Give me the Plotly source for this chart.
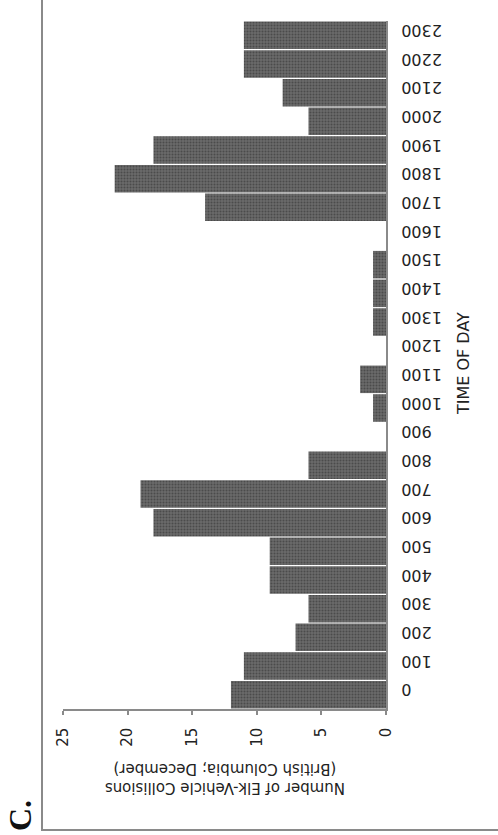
import plotly.graph_objects as go

hours = ["0", "100", "200", "300", "400", "500", "600", "700", "800", "900",
         "1000", "1100", "1200", "1300", "1400", "1500", "1600", "1700", "1800",
         "1900", "2000", "2100", "2200", "2300"]
collisions = [12, 11, 7, 6, 9, 9, 18, 19, 6, 0,
              1, 2, 0, 1, 1, 1, 0, 14, 21,
              18, 6, 8, 11, 11]
value_ticks = [0, 5, 10, 15, 20, 25]

W, H = 498, 835
L, R, T, B = 63, 386, 21, 709

def px(x):
    return (x - L) / (R - L)

def py(y):
    return (B - y) / (B - T)

# pad labels with figure spaces so the upside-down labels line up on their left
hour_text = ["\u2007" * (4 - len(h)) + h for h in hours]

font = "DejaVu Sans"
fig = go.Figure()
fig.add_trace(go.Bar(
    y=hours, x=collisions, orientation="h",
    marker=dict(color="#606060", line=dict(width=0),
                pattern=dict(shape=".", fgcolor="#4b4b4b", bgcolor="#6a6a6a",
                             size=3, solidity=0.35)),
    hoverinfo="skip",
))

fig.update_layout(
    template="none",
    width=W, height=H, autosize=False,
    margin=dict(l=L, r=W - R, t=T, b=H - B, pad=0),
    paper_bgcolor="white", plot_bgcolor="white",
    showlegend=False, bargap=0.04,
    xaxis=dict(range=[25, 0], tickvals=value_ticks, ticktext=[str(v) for v in value_ticks],
               automargin=False,
               showgrid=False, zeroline=False, showline=True, linecolor="#8a8a8a", linewidth=1.5,
               ticks="outside", ticklen=4, tickcolor="#8a8a8a", tickwidth=1.5, tickangle=-90,
               tickfont=dict(family=font, size=15, color="#222"), ticklabelstandoff=7),
    yaxis=dict(type="category", categoryorder="array", categoryarray=hours,
               tickvals=hours, ticktext=hour_text, automargin=False,
               range=[-0.5, 23.5], side="right",
               showgrid=False, zeroline=False, showline=True, linecolor="#8a8a8a", linewidth=1.5,
               ticks="", tickangle=180,
               tickfont=dict(family=font, size=16, color="#222"), ticklabelstandoff=51),
)

fig.add_annotation(xref="paper", yref="paper", x=px(225), y=py(778),
                   xanchor="center", yanchor="middle",
                   text="Number of Elk-Vehicle Collisions<br>(British Columbia; December)",
                   textangle=180, showarrow=False,
                   font=dict(family=font, size=15, color="#222"))
fig.add_annotation(xref="paper", yref="paper", x=px(463), y=py(364),
                   xanchor="center", yanchor="middle",
                   text="TIME OF DAY", textangle=-90, showarrow=False,
                   font=dict(family=font, size=16, color="#222"))
fig.add_annotation(xref="paper", yref="paper", x=px(20), y=py(816),
                   xanchor="center", yanchor="middle",
                   text="<b>C.</b>", textangle=-90, showarrow=False,
                   font=dict(family="Liberation Serif", size=32, color="#111"))

fig.add_shape(type="line", xref="paper", yref="paper",
              x0=px(42), x1=px(42), y0=py(831), y1=py(-20),
              line=dict(color="#8a8a8a", width=2), layer="below")
fig.add_shape(type="line", xref="paper", yref="paper",
              x0=px(41), x1=px(520), y0=py(830), y1=py(830),
              line=dict(color="#8a8a8a", width=2), layer="below")

fig.write_html("out.html", config={"displayModeBar": False},
               post_script="document.body.style.margin='0';")
